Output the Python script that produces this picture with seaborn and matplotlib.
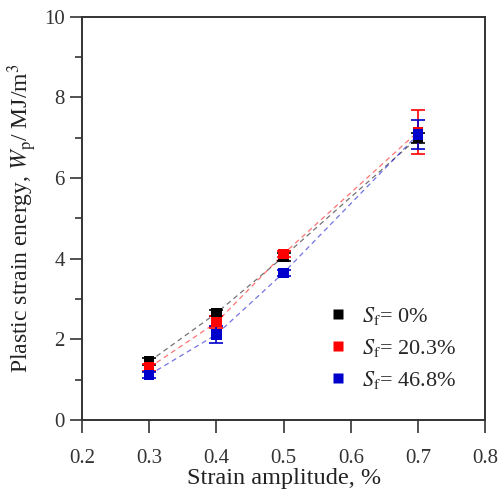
import matplotlib
matplotlib.use("Agg")
import matplotlib.pyplot as plt
import seaborn as sns
import pandas as pd
import numpy as np

# data
strain = [0.3, 0.4, 0.5, 0.7]
wp_0 = [1.45, 2.65, 4.05, 7.00]
wp_203 = [1.30, 2.42, 4.12, 7.15]
wp_468 = [1.12, 2.12, 3.65, 7.08]
err_0 = [0.08, 0.08, 0.10, 0.12]
err_203 = [0.08, 0.15, 0.08, 0.55]
err_468 = [0.08, 0.22, 0.08, 0.35]
labels = ["$S_\\mathrm{f}$= 0%", "$S_\\mathrm{f}$= 20.3%", "$S_\\mathrm{f}$= 46.8%"]
colors = ["#000000", "#ff0000", "#0000cc"]

df = pd.DataFrame({
    "strain": strain * 3,
    "wp": wp_0 + wp_203 + wp_468,
    "err": err_0 + err_203 + err_468,
    "group": [labels[0]] * 4 + [labels[1]] * 4 + [labels[2]] * 4,
})

sns.set_style("ticks")
plt.rcParams["font.family"] = ["Liberation Serif", "DejaVu Serif"]
plt.rcParams["mathtext.fontset"] = "stix"

fig = plt.figure(figsize=(4.98, 4.94), dpi=100)
ax = fig.add_axes([0.165, 0.15, 0.809, 0.816])

palette = dict(zip(labels, colors))
sns.lineplot(data=df, x="strain", y="wp", hue="group", palette=palette,
             linestyle=(0, (4, 3)), linewidth=0.9, alpha=0.55, legend=False, ax=ax)
for lab, c in zip(labels, colors):
    sub = df[df["group"] == lab]
    ax.errorbar(sub["strain"], sub["wp"], yerr=sub["err"], fmt="none",
                ecolor=c, elinewidth=1.2, capsize=5, capthick=1.2, zorder=3)
sns.scatterplot(data=df, x="strain", y="wp", hue="group", palette=palette,
                marker="s", s=55, edgecolor="none", ax=ax, zorder=4)

ax.set_xlim(0.2, 0.8)
ax.set_ylim(0, 10)
ax.set_xticks(np.arange(0.2, 0.81, 0.1))
ax.set_xticklabels(["0.2", "0.3", "0.4", "0.5", "0.6", "0.7", "0.8"])
ax.set_yticks([0, 2, 4, 6, 8, 10])
ax.set_yticks([1, 3, 5, 7, 9], minor=True)
ax.tick_params(axis="both", which="major", direction="out", length=9, width=1.2,
               labelsize=15, colors="#333333", labelcolor="#333333")
ax.tick_params(axis="x", which="major", pad=12)
ax.tick_params(axis="y", which="minor", direction="out", length=5, width=1.2,
               colors="#333333")
for sp in ax.spines.values():
    sp.set_visible(True)
    sp.set_linewidth(1.4)
    sp.set_color("#333333")

ax.set_xlabel("Strain amplitude, %", fontsize=17.5, color="#222222", labelpad=0)
ax.set_ylabel("Plastic strain energy, $W_\\mathrm{p}$/ MJ/m$^3$", fontsize=17,
              color="#222222", labelpad=4)

leg = ax.legend(loc="lower right", frameon=False, fontsize=16, handletextpad=0.1,
                markerscale=1.0, borderaxespad=0.9, labelspacing=0.45)
leg.set_title(None)

fig.savefig("out.png", dpi=100)
